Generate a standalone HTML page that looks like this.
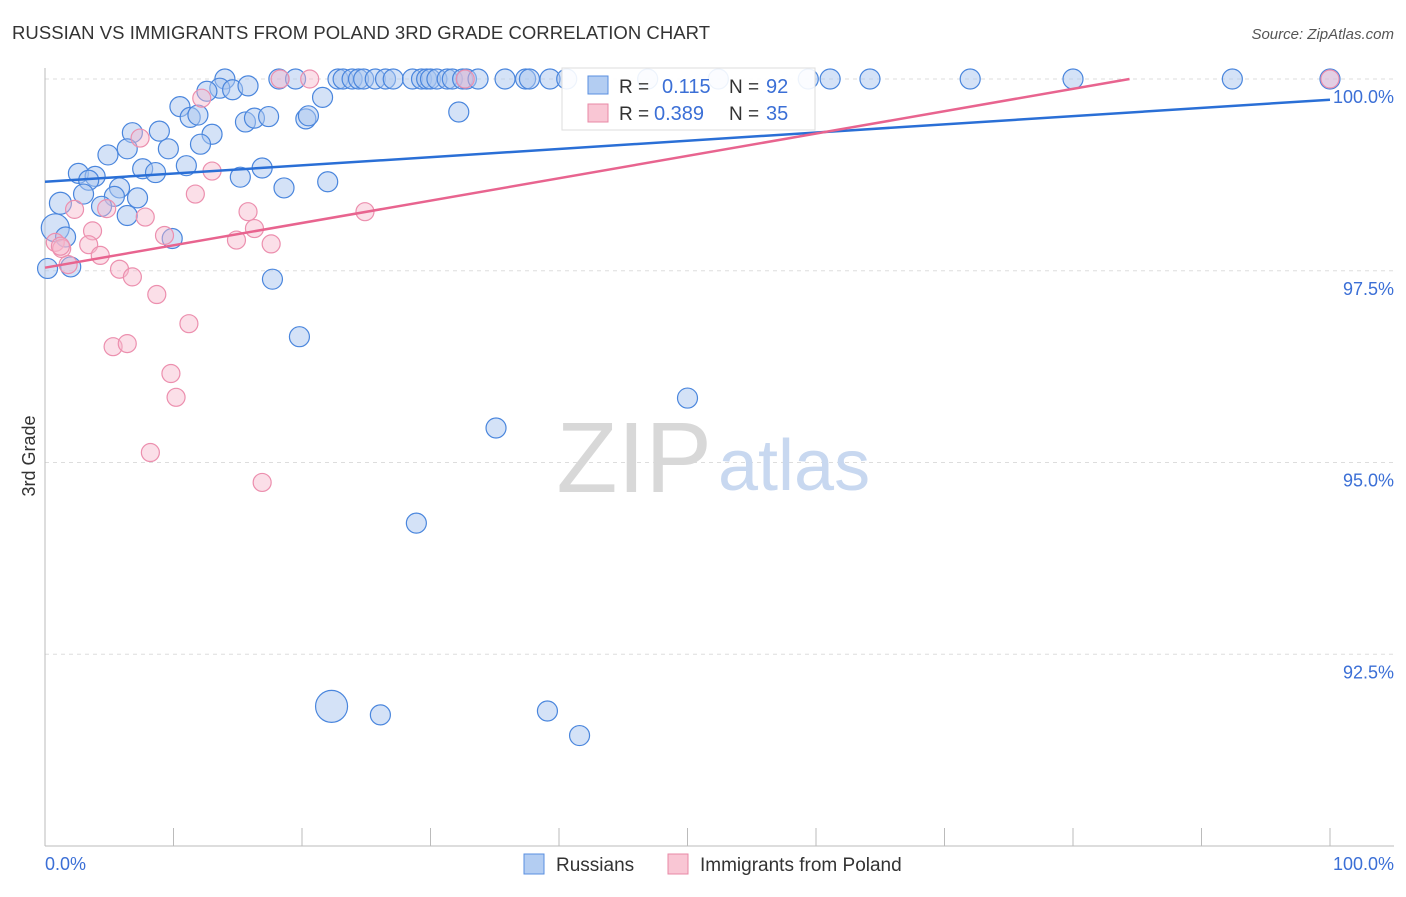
<!DOCTYPE html>
<html><head><meta charset="utf-8"><style>
body{margin:0;background:#fff;font-family:"Liberation Sans",sans-serif}
svg text{font-family:"Liberation Sans",sans-serif}
</style></head><body>
<svg width="1406" height="892" xmlns="http://www.w3.org/2000/svg">
<text x="12" y="39" font-size="18.5" fill="#333" textLength="698">RUSSIAN VS IMMIGRANTS FROM POLAND 3RD GRADE CORRELATION CHART</text>
<text x="1394" y="39" font-size="15" fill="#555" text-anchor="end" font-style="italic">Source: ZipAtlas.com</text>
<g id="grid"></g>
<text x="712" y="492" font-size="100" fill="#d8d8d8" text-anchor="end" font-family="Liberation Serif">ZIP</text>
<text x="718" y="490" font-size="72" fill="#c8d8f0">atlas</text>
<g id="axes"></g>
<g id="pts"></g>
<g id="lines"></g>
<text x="35" y="456" font-size="18" fill="#333" text-anchor="middle" transform="rotate(-90 35 456)">3rd Grade</text>
<text x="45" y="870" font-size="18" fill="#3b6fd6">0.0%</text>
<text x="1394" y="870" font-size="18" fill="#3b6fd6" text-anchor="end">100.0%</text>
<g>
<rect x="562" y="68" width="253" height="62" fill="#fff" fill-opacity="0.9" stroke="#ddd"/>
<rect x="588" y="76" width="20" height="18" fill="#b3cdf2" stroke="#5a8fe0"/>
<text x="619" y="93" font-size="19" fill="#333">R =</text>
<text x="662" y="93" font-size="20" fill="#3b6fd6">0.115</text>
<text x="729" y="93" font-size="19" fill="#333">N =</text>
<text x="766" y="93" font-size="20" fill="#3b6fd6">92</text>
<rect x="588" y="104" width="20" height="18" fill="#f9c6d4" stroke="#e888a6"/>
<text x="619" y="120" font-size="19" fill="#333">R =</text>
<text x="654" y="120" font-size="20" fill="#3b6fd6">0.389</text>
<text x="729" y="120" font-size="19" fill="#333">N =</text>
<text x="766" y="120" font-size="20" fill="#3b6fd6">35</text>
</g>
<g>
<rect x="524" y="854" width="20" height="20" fill="#b3cdf2" stroke="#5a8fe0"/>
<text x="556" y="871" font-size="19" fill="#333">Russians</text>
<rect x="668" y="854" width="20" height="20" fill="#f9c6d4" stroke="#e888a6"/>
<text x="700" y="871" font-size="19" fill="#333">Immigrants from Poland</text>
</g>
</svg>
<script>
const yTicks=[100,97.5,95,92.5];
const yTickLabels=["100.0%","97.5%","95.0%","92.5%"];
const blueX=[14,18.2,19.5,22.8,23.2,23.9,24.4,24.8,25.7,26.5,27.1,28.6,29.3,29.7,30,30.5,31.3,31.7,32.5,32.8,33.7,35.8,37.4,37.7,39.3,40.6,46.9,52.4,59.4,61.1,64.2,72,80,92.4,100,
13.6,14.6,15.8,12.6,21.6,10.5,11.3,11.9,15.6,16.3,17.4,20.3,20.5,32.2,6.8,8.9,13,6.4,9.6,12.1,4.9,11,7.6,8.6,16.9,2.6,3.9,3.4,15.2,22,18.6,5.8,3,5.4,7.2,4.4,1.2,6.4,0.8,1.6,9.9,2,0.2,17.7,19.8,50,35.1,28.9,22.3,26.1,39.1,41.6];
const blueY=[100,100,100,100,100,100,100,100,100,100,100,100,100,100,100,100,100,100,100,100,100,100,100,100,100,100,100,100,100,100,100,100,100,100,100,
99.88,99.86,99.91,99.84,99.76,99.64,99.5,99.53,99.44,99.49,99.51,99.48,99.52,99.57,99.3,99.32,99.28,99.09,99.09,99.15,99.01,98.87,98.83,98.78,98.84,98.77,98.73,98.68,98.72,98.66,98.58,98.58,98.5,98.47,98.45,98.34,98.38,98.22,98.06,97.94,97.92,97.55,97.53,97.39,96.64,95.84,95.45,94.21,91.82,91.71,91.76,91.44];
const pinkX=[18.3,20.6,32.7,100,12.2,7.4,13,11.7,2.3,4.8,15.8,7.8,16.3,3.7,9.3,14.9,17.6,0.8,3.4,1.3,4.3,24.9,1.8,5.8,6.8,8.7,11.2,5.3,6.4,9.8,10.2,8.2,16.9,1.2];
const pinkY=[100,100,100,100,99.75,99.23,98.8,98.5,98.3,98.31,98.27,98.2,98.05,98.02,97.96,97.9,97.85,97.87,97.84,97.79,97.7,98.27,97.58,97.52,97.42,97.19,96.81,96.51,96.55,96.16,95.85,95.13,94.74,97.82];
const blueLine=[0,98.66,100,99.73];
const pinkLine=[0,97.54,84.4,100];
const X=v=>45+v*12.85, Y=v=>79+(100-v)*76.7;
const NS="http://www.w3.org/2000/svg";
function mk(p,t,a){const e=document.createElementNS(NS,t);for(const k in a)e.setAttribute(k,a[k]);p.appendChild(e);return e;}
const grid=document.getElementById('grid'),axes=document.getElementById('axes');
yTicks.forEach((t,i)=>{
 const l=mk(grid,'line',{x1:45,x2:1394,y1:Y(t),y2:Y(t),stroke:'#ddd','stroke-dasharray':'4 4'});
 
 
 const tx=mk(axes,'text',{x:1394,y:Y(t)+24,'font-size':18,fill:'#3b6fd6','text-anchor':'end'});
 tx.textContent=yTickLabels[i];
 
 
});
const ax=mk(axes,'line',{x1:45,x2:45,y1:68,y2:846,stroke:'#bbb'});


const bx=mk(axes,'line',{x1:45,x2:1394,y1:846,y2:846,stroke:'#bbb'});


for(let i=0;i<=10;i++){const t=mk(axes,'line',{x1:X(i*10),x2:X(i*10),y1:828,y2:846,stroke:'#bbb'});
 
 }
const pts=document.getElementById('pts');
const bigR={71:11,73:14,83:16};
blueX.forEach((x,i)=>{const c=mk(pts,'circle',{cx:X(x),cy:Y(blueY[i]),r:bigR[i]||10,fill:'#a9c6f0','fill-opacity':0.5,stroke:'#4a86dd','stroke-width':1.2});
 
 });
pinkX.forEach((x,i)=>{const c=mk(pts,'circle',{cx:X(x),cy:Y(pinkY[i]),r:9,fill:'#f7b8cb','fill-opacity':0.45,stroke:'#ec8fae','stroke-width':1.2});
 
 });
const lg=document.getElementById('lines');
const bl=mk(lg,'line',{x1:X(blueLine[0]),y1:Y(blueLine[1]),x2:X(blueLine[2]),y2:Y(blueLine[3]),stroke:'#2a6fd6','stroke-width':2.5});


const pl=mk(lg,'line',{x1:X(pinkLine[0]),y1:Y(pinkLine[1]),x2:X(pinkLine[2]),y2:Y(pinkLine[3]),stroke:'#e8648f','stroke-width':2.5});


</script>
</body></html>
